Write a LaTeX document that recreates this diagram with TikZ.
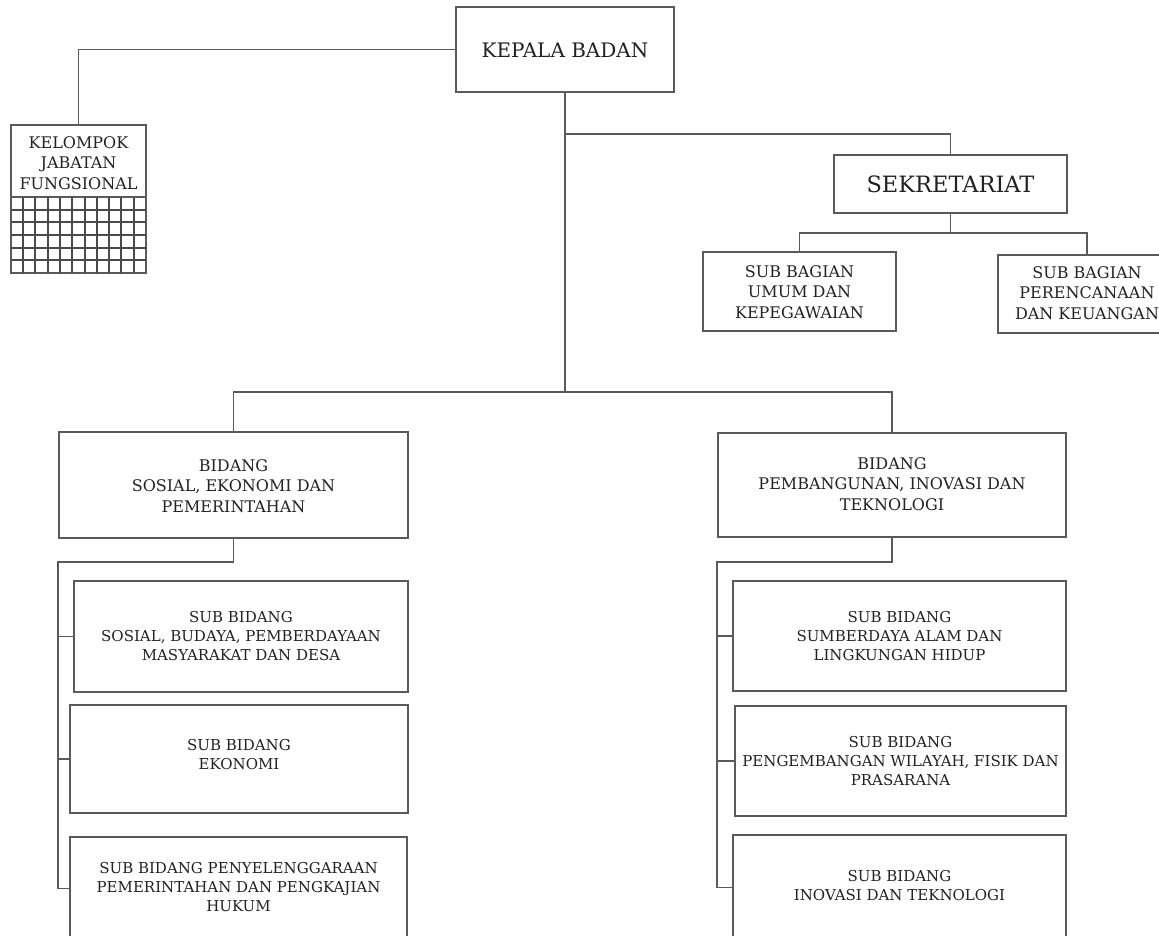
\documentclass[tikz,border=0pt]{standalone}
\usepackage{fontspec}
\setmainfont{DejaVu Serif}
\definecolor{linec}{HTML}{5A5A5A}
\definecolor{gridc}{HTML}{4A4A4A}
\definecolor{textc}{HTML}{222222}
\tikzset{
  orgbox/.style={draw=linec, line width=1.1pt, rectangle, inner sep=0pt},
  conn/.style={draw=linec, line width=1.1pt},
  gridline/.style={draw=gridc, line width=1.5pt},
  txt/.style={text=textc, align=center, inner sep=0pt},
  fbig/.style={font=\fontsize{20}{24}\selectfont},
  fsek/.style={font=\fontsize{22.5}{26}\selectfont},
  fmid/.style={font=\fontsize{16}{20.5}\selectfont},
  fsub/.style={font=\fontsize{15}{19}\selectfont},
}
\begin{document}
\begin{tikzpicture}[x=1pt,y=-1pt]
\useasboundingbox (0,0) rectangle (1159,936);
\clip (0,0) rectangle (1159,936);
\fill[white] (0,0) rectangle (1159,936);

% boxes
\node[orgbox, minimum width=218pt, minimum height=85pt] (kepala) at (565,49.5) {};
\node[orgbox, minimum width=135pt, minimum height=148pt] (kjf) at (78.5,199) {};
\node[orgbox, minimum width=233pt, minimum height=58pt] (sek) at (950.5,184) {};
\node[orgbox, minimum width=193pt, minimum height=79pt] (umum) at (799.5,291.5) {};
\node[orgbox, minimum width=178pt, minimum height=78pt] (peren) at (1087,294) {};
\node[orgbox, minimum width=349pt, minimum height=106pt] (bsos) at (233.5,485) {};
\node[orgbox, minimum width=348pt, minimum height=104pt] (bpem) at (892,485) {};
\node[orgbox, minimum width=334pt, minimum height=111pt] (s1L) at (241,636.5) {};
\node[orgbox, minimum width=338pt, minimum height=108pt] (s2L) at (239,759) {};
\node[orgbox, minimum width=337pt, minimum height=103pt] (s3L) at (238.5,888.5) {};
\node[orgbox, minimum width=333pt, minimum height=110pt] (s1R) at (899.5,636) {};
\node[orgbox, minimum width=331pt, minimum height=110pt] (s2R) at (900.5,761) {};
\node[orgbox, minimum width=333pt, minimum height=105pt] (s3R) at (899.5,887.5) {};

% grid of the functional group box
\draw[conn] (11,197) -- (146,197);
\foreach \gx in {23,35,48,60,72,85,97,109,121,134} \draw[gridline] (\gx,197) -- (\gx,273);
\foreach \gy in {210,222,235,248,260} \draw[gridline] (11,\gy) -- (146,\gy);
\draw[orgbox] (kjf.north west) rectangle (kjf.south east);

% texts
\node[txt, fbig] (t-kepala) at (565,50) {KEPALA BADAN};
\node[txt, fmid] (t-kjf) at (78.5,163) {KELOMPOK\\JABATAN\\FUNGSIONAL};
\node[txt, fsek] (t-sek) at (950.5,184) {SEKRETARIAT};
\node[txt, fmid] (t-umum) at (799.5,292) {SUB BAGIAN\\UMUM DAN\\KEPEGAWAIAN};
\node[txt, fmid] (t-peren) at (1087,293) {SUB BAGIAN\\PERENCANAAN\\DAN KEUANGAN};
\node[txt, fmid] (t-bsos) at (233.5,486) {BIDANG\\SOSIAL, EKONOMI DAN\\PEMERINTAHAN};
\node[txt, fmid] (t-bpem) at (892,484) {BIDANG\\PEMBANGUNAN, INOVASI DAN\\TEKNOLOGI};
\node[txt, fsub] (t-s1L) at (241,636) {SUB BIDANG\\SOSIAL, BUDAYA, PEMBERDAYAAN\\MASYARAKAT DAN DESA};
\node[txt, fsub] (t-s2L) at (239,755) {SUB BIDANG\\EKONOMI};
\node[txt, fsub] (t-s3L) at (238.5,887) {SUB BIDANG PENYELENGGARAAN\\PEMERINTAHAN DAN PENGKAJIAN\\HUKUM};
\node[txt, fsub] (t-s1R) at (899.5,636) {SUB BIDANG\\SUMBERDAYA ALAM DAN\\LINGKUNGAN HIDUP};
\node[txt, fsub] (t-s2R) at (900.5,761) {SUB BIDANG\\PENGEMBANGAN WILAYAH, FISIK DAN\\PRASARANA};
\node[txt, fsub] (t-s3R) at (899.5,886) {SUB BIDANG\\INOVASI DAN TEKNOLOGI};

% junction coordinates
\coordinate (sekj) at (565,134);
\coordinate (sekhub) at (950.5,233);
\coordinate (trunk) at (565,392);
\coordinate (lbus) at (58,562);
\coordinate (rbus) at (717,562);

% connectors
\draw[conn] (kepala.west) -| (kjf.north);
\draw[conn] (kepala.south) -- (trunk);
\draw[conn] (sekj) -| (sek.north);
\draw[conn] (sek.south) -- (sekhub);
\draw[conn] (umum.north) |- (sekhub) -| (peren.north);
\draw[conn] (bsos.north) |- (trunk) -| (bpem.north);
\draw[conn] (bsos.south) |- (lbus) |- (s3L.west);
\draw[conn] (s1L.west) -- (s1L.west -| lbus);
\draw[conn] (s2L.west) -- (s2L.west -| lbus);
\draw[conn] (bpem.south) |- (rbus) |- (s3R.west);
\draw[conn] (s1R.west) -- (s1R.west -| rbus);
\draw[conn] (s2R.west) -- (s2R.west -| rbus);
\end{tikzpicture}
\end{document}
